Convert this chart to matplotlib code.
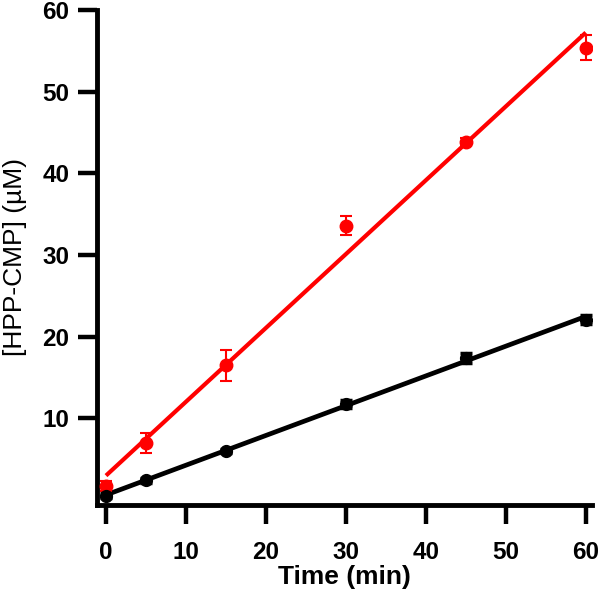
import numpy as np
import matplotlib
matplotlib.use("Agg")
import matplotlib.pyplot as plt

plt.rcParams['font.family'] = ['Liberation Sans', 'DejaVu Sans']

time = [0, 5, 15, 30, 45, 60]
red_mean = [1.7, 7.0, 16.5, 33.6, 43.9, 55.4]
red_err = [0.6, 1.2, 1.9, 1.2, 0.4, 1.5]
black_mean = [0.5, 2.4, 6.0, 11.8, 17.4, 22.1]
black_err = [0.3, 0.3, 0.3, 0.5, 0.6, 0.6]

xticks = [0, 10, 20, 30, 40, 50, 60]
yticks = [10, 20, 30, 40, 50, 60]

fig = plt.figure(figsize=(6.0, 5.94), dpi=100)
ax = fig.add_axes([0.162, 0.150, 0.825, 0.833])

xfit = np.array([min(time), max(time)])
for mean, err, col, ms, cs, ct, lw in [(red_mean, red_err, '#ff0000', 9, 4.5, 1.5, 3.0),
                                       (black_mean, black_err, '#000000', 8.5, 4.0, 2.5, 3.4)]:
    p = np.polyfit(time, mean, 1)
    ax.plot(xfit, np.polyval(p, xfit), color=col, lw=lw, solid_capstyle='butt', zorder=2)
    ax.errorbar(time, mean, yerr=err, fmt='o', color=col, ms=ms, elinewidth=1.5,
                capsize=cs, capthick=ct, zorder=3)

ax.set_xlim(-1.1, 60.8)
ax.set_ylim(-0.6, 60)
ax.set_xticks(xticks)
ax.set_yticks(yticks)
for s in ['top', 'right']:
    ax.spines[s].set_visible(False)
for s in ['left', 'bottom']:
    ax.spines[s].set_linewidth(3.5)
ax.tick_params(axis='both', length=14, width=3.2, labelsize=17.5)
ax.tick_params(axis='x', pad=12)
ax.tick_params(axis='y', pad=6)
for lab in ax.get_xticklabels() + ax.get_yticklabels():
    lab.set_fontweight('bold')

ax.set_xlabel('Time (min)', fontsize=19, fontweight='bold', labelpad=1)
ax.set_ylabel('[HPP-CMP] (µM)', fontsize=19, labelpad=11)

fig.savefig('out.png', dpi=100)
